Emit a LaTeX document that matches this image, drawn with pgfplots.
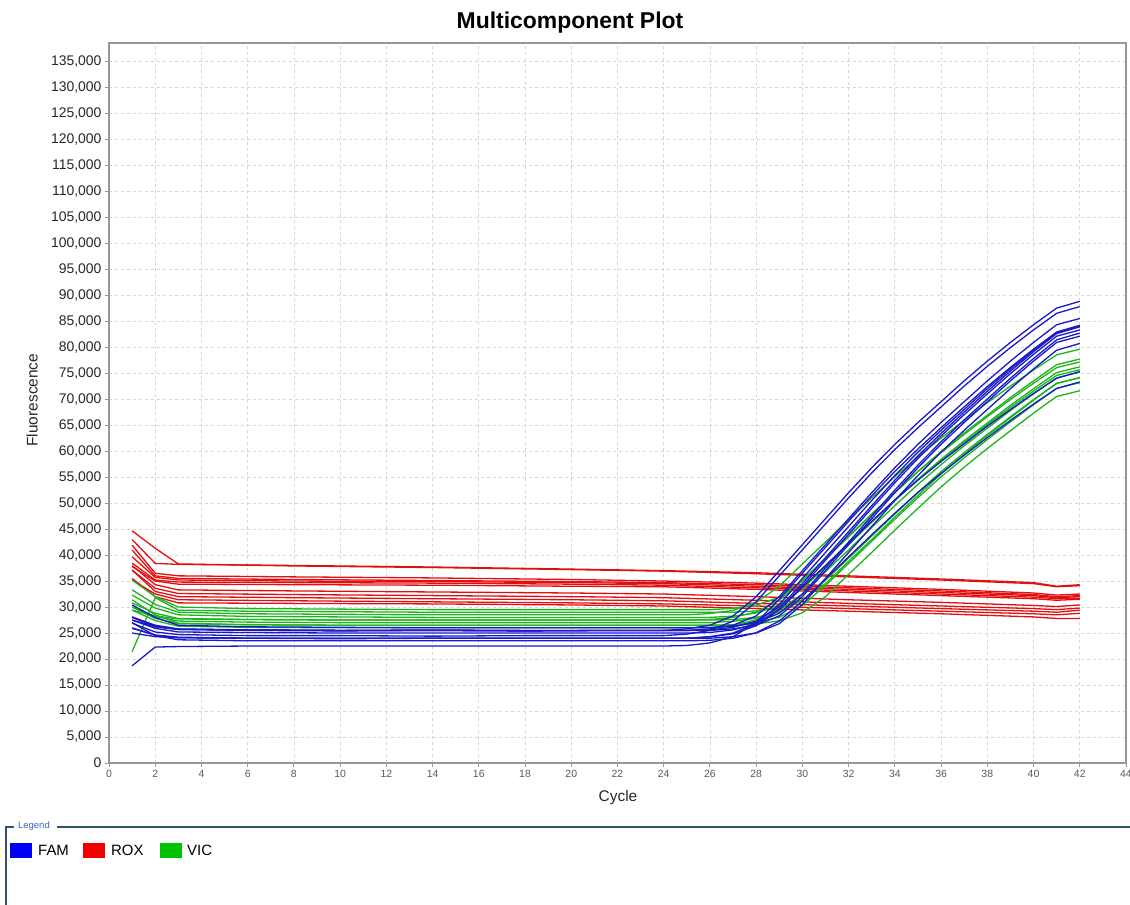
\documentclass[border=0pt]{standalone}
\usepackage{pgfplots}
\pgfplotsset{compat=1.18}
\usepackage{pgfplotstable}
\usepackage{fontspec}
\setmainfont{Liberation Sans}
\definecolor{famc}{RGB}{25,25,200}
\definecolor{roxc}{RGB}{225,15,15}
\definecolor{vicc}{RGB}{30,180,30}
\definecolor{famsq}{RGB}{0,0,245}
\definecolor{roxsq}{RGB}{245,0,0}
\definecolor{vicsq}{RGB}{0,195,0}
\definecolor{gridc}{RGB}{215,215,215}
\definecolor{axc}{RGB}{150,150,150}
\definecolor{legline}{RGB}{50,85,100}
\definecolor{legtext}{RGB}{60,100,190}

\pgfplotstableread{
c b1 b2 b3 b4 b5 b6 b7 b8 b9 b10 b11 b12
1 27500 26900 28100 25900 28100 30400 27500 28000 25000 18700 27000 26000
2 26200 25200 26500 24600 26300 28000 25900 26200 24300 22300 24500 24600
3 25700 24700 25800 24100 25700 26500 25200 25700 24100 22400 23700 24200
6 25500 24500 25600 24000 25600 26200 25100 25600 24000 22500 23500 24000
10 25400 24500 25500 23900 25500 26100 25000 25500 24000 22500 23500 24000
14 25500 24400 25500 24000 25600 26000 25000 25500 24000 22500 23500 24000
18 25400 24500 25400 24000 25500 26000 25000 25500 24000 22500 23500 24000
22 25500 24500 25500 24000 25500 26000 25000 25500 24000 22500 23500 24000
24 25500 24500 25500 24000 25500 26000 25000 25500 24000 22500 23500 24000
25 25800 24800 25500 24000 25500 26000 25000 25500 24000 22600 23500 24000
26 26500 25500 25800 24300 25600 26000 25100 25500 24000 23100 23600 24250
27 28300 27300 26500 25000 26100 26300 25600 25800 24300 24300 24000 24850
28 32000 31000 28300 26800 27300 27000 26800 26500 25000 27000 25050 26400
29 37000 36000 32000 30500 30000 28800 29500 28300 26800 31500 27300 29500
30 42000 41000 37000 35500 34500 32500 34000 32000 30500 36500 31150 33800
31 47000 46000 42000 40500 39500 37500 39000 37000 35500 41500 35400 38000
32 52000 51000 47000 45500 44500 42500 44000 42000 40500 46500 39650 42300
33 56800 55800 52000 50500 49500 47500 49000 47000 45500 51400 43900 46500
34 61300 60300 56800 55300 54400 52500 53900 52000 50500 56100 48050 50600
35 65500 64500 61300 59800 59100 57300 58600 56800 55300 60400 52050 54400
36 69500 68500 65500 64000 63400 61800 62900 61300 59800 64500 55700 58000
37 73500 72500 69500 68000 67500 66000 67000 65500 64000 68500 59200 61400
38 77300 76300 73500 72000 71500 70000 71000 69500 68000 72400 62600 64800
39 80900 79900 77300 75800 75400 74000 74900 73500 72000 76100 65900 68000
40 84300 83300 80900 79400 79100 77800 78600 77300 75800 79600 69050 71100
41 87500 86500 84300 82800 82600 81400 82100 80900 79400 82900 72050 74000
42 88800 87800 85500 84000 83900 82700 83300 82100 80700 84200 73300 75300
}\famtab

\pgfplotstableread{
c g1 g2 g3 g4 g5 g6 g7 g8 g9 g10
1 33300 30800 32300 30000 29400 31400 30000 35200 29400 21400
2 30500 28800 29800 28200 28300 28500 27800 32000 27400 31800
3 29000 27800 28500 27300 27700 26900 26800 30000 26300 29400
6 28700 27600 28200 27100 27600 26600 26600 29700 26100 29200
10 28600 27500 28100 27000 27500 26500 26500 29600 26000 29100
14 28500 27500 28000 27000 27500 26500 26500 29500 26000 29000
18 28500 27500 28000 27000 27500 26500 26500 29500 26000 29000
22 28500 27500 28000 27000 27500 26500 26500 29500 26000 29000
24 28500 27500 28000 27000 27500 26500 26500 29500 26000 29000
25 28500 27500 28000 27000 27500 26500 26500 29500 26000 29000
26 28750 27600 28000 27000 27500 26500 26500 29500 26100 29000
27 29350 28000 28250 27250 27600 26600 26500 29750 26500 29000
28 30900 29050 28850 27850 28000 27000 26750 30350 27550 29250
29 34000 31300 30400 29400 29050 28050 27350 31900 29800 29850
30 38300 35150 33500 32500 31300 30300 28900 35000 33650 31400
31 42500 39400 37800 36800 35150 34150 32000 39300 37900 34500
32 46800 43650 42000 41000 39400 38400 36300 43500 42150 38800
33 51000 47900 46300 45300 43650 42650 40500 47800 46400 43000
34 55100 52050 50500 49500 47900 46900 44800 52000 50550 47300
35 58900 56050 54600 53600 52050 51050 49000 56100 54550 51500
36 62500 59700 58400 57400 56050 55050 53100 59900 58200 55600
37 65900 63200 62000 61000 59700 58700 56900 63500 61700 59400
38 69300 66600 65400 64400 63200 62200 60500 66900 65100 63000
39 72500 69900 68800 67800 66600 65600 63900 70300 68400 66400
40 75600 73050 72000 71000 69900 68900 67300 73500 71550 69800
41 78500 76050 75100 74100 73050 72050 70500 76600 74550 73000
42 79600 77150 76200 75200 74150 73150 71600 77700 75650 74100
}\victab

\pgfplotstableread{
c r1 r2 r3 r4 r5 r6 r7 r8 r9 r10 r11 r12
1 42980 44670 41900 40960 39680 38460 37800 38000 37100 37100 35190 35500
2 38400 41300 36500 36000 35700 35200 35000 34300 33600 33000 32500 32000
3 38200 38300 36000 35500 35200 34800 34400 33300 32600 32000 31400 30800
8 38000 37900 35800 35300 35000 34700 34300 33100 32400 31800 31200 30700
14 37700 37600 35600 35100 34900 34600 34200 32900 32200 31600 31000 30600
20 37300 37200 35300 34900 34700 34400 34000 32700 32000 31400 30800 30400
24 37000 36900 35000 34700 34500 34200 33900 32500 31800 31200 30600 30200
28 36600 36400 34600 34300 34000 33700 33400 32000 31300 30700 30200 29700
32 36000 35800 34000 33700 33400 33100 32800 31400 30700 30200 29700 29200
36 35400 35200 33400 33100 32800 32500 32200 30900 30200 29700 29200 28700
40 34700 34500 32700 32400 32200 31900 31600 30300 29700 29200 28700 28100
41 34000 33900 32300 32000 31800 31600 31300 30100 29500 29000 28500 27800
42 34300 34100 32500 32200 32000 31700 31500 30400 29800 29400 28800 27800
}\roxtab

\begin{document}
\begin{tikzpicture}[x=1bp,y=1bp]
\path[use as bounding box] (0,0) rectangle (1130,905);
\begin{axis}[
  at={(109bp,142bp)}, anchor=south west,
  scale only axis, width=1017bp, height=720bp,
  xmin=0, xmax=44, ymin=0, ymax=138500,
  xtick={0,2,...,44}, ytick={0,5000,...,135000},
  scaled y ticks=false,
  tick pos=left, tick align=outside,
  major tick length=4bp,
  every tick/.style={axc, line width=0.9bp},
  axis line style={axc, line width=1.2bp},
  grid=major,
  major grid style={gridc, line width=0.8bp, dash pattern=on 3bp off 3bp},
  yticklabel style={font=\fontsize{14}{14}\selectfont, text=black!85,
    /pgf/number format/.cd, fixed, 1000 sep={,}, assume math mode=true},
  xticklabel style={font=\fontsize{10.5}{10.5}\selectfont, text=black!65,
    /pgf/number format/assume math mode=true},
  ylabel={Fluorescence}, xlabel={Cycle},
  every axis y label/.style={at={(axis description cs:-0.0757,0.504)}, rotate=90, anchor=center, font=\fontsize{15.5}{15.5}\selectfont, text=black!85},
  every axis x label/.style={at={(axis description cs:0.5005,-0.0486)}, anchor=center, font=\fontsize{15.5}{15.5}\selectfont, text=black!85},
  title={Multicomponent Plot},
  every axis title/.style={at={(axis description cs:0.4533,1.029)}, anchor=center, font=\bfseries\fontsize{23}{23}\selectfont},
  clip=false,
]
\pgfplotsinvokeforeach{1,...,12}{\addplot[roxc, line width=1.3bp] table[x=c,y=r#1]{\roxtab};}
\pgfplotsinvokeforeach{1,...,10}{\addplot[vicc, line width=1.3bp] table[x=c,y=g#1]{\victab};}
\pgfplotsinvokeforeach{1,...,12}{\addplot[famc, line width=1.3bp] table[x=c,y=b#1]{\famtab};}
\end{axis}
% legend panel
\draw[legline, line width=1.4bp] (6,0) -- (6,78) -- (14,78);
\draw[legline, line width=1.4bp] (57,78) -- (1130,78);
\node[anchor=west, inner sep=0, text=legtext, font=\fontsize{9.5}{9.5}\selectfont] at (18,79) {Legend};
\fill[famsq] (10,47) rectangle (32,62);
\node[anchor=west, inner sep=0, font=\fontsize{15}{15}\selectfont] at (38,54.5) {FAM};
\fill[roxsq] (83,47) rectangle (105,62);
\node[anchor=west, inner sep=0, font=\fontsize{15}{15}\selectfont] at (111,54.5) {ROX};
\fill[vicsq] (160,47) rectangle (182,62);
\node[anchor=west, inner sep=0, font=\fontsize{15}{15}\selectfont] at (187,54.5) {VIC};
\end{tikzpicture}
\end{document}
